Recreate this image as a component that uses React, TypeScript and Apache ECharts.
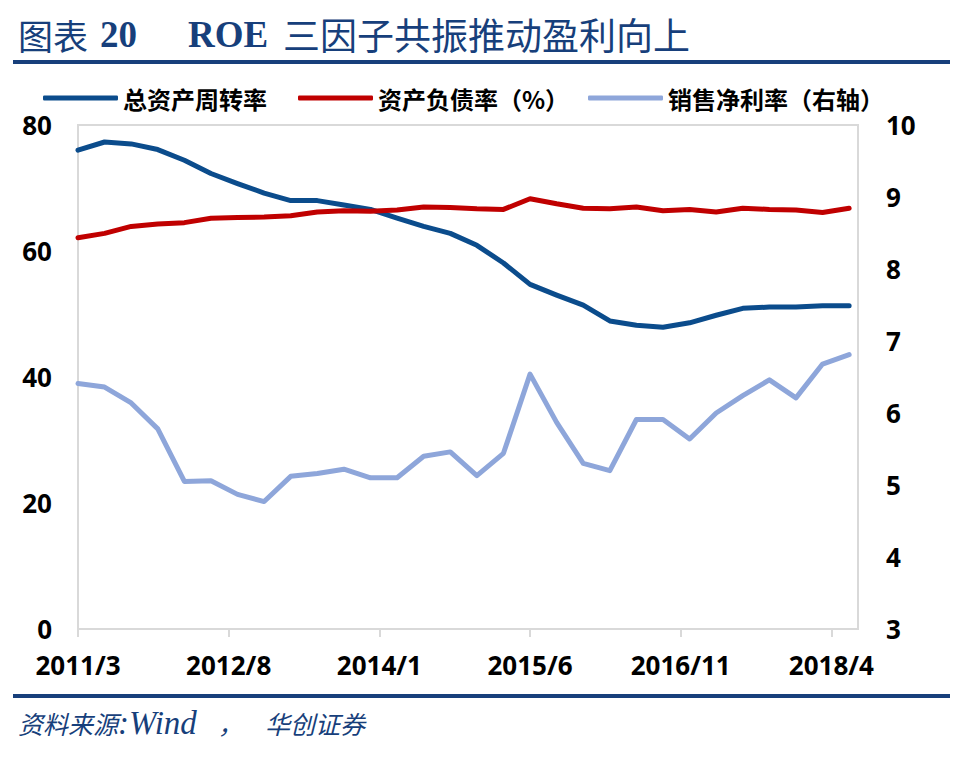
// ROE 三因子：总资产周转率、资产负债率（左轴）与销售净利率（右轴），季度数据，月度日期轴
import { useEffect, useRef } from 'react'
import * as echarts from 'echarts'

// 季度数据点（2011/3 – 2018/6）
const QUARTERS = [
  '2011/3', '2011/6', '2011/9', '2011/12',
  '2012/3', '2012/6', '2012/9', '2012/12',
  '2013/3', '2013/6', '2013/9', '2013/12',
  '2014/3', '2014/6', '2014/9', '2014/12',
  '2015/3', '2015/6', '2015/9', '2015/12',
  '2016/3', '2016/6', '2016/9', '2016/12',
  '2017/3', '2017/6', '2017/9', '2017/12',
  '2018/3', '2018/6',
]

const TURNOVER = [
  76.0, 77.3, 77.0, 76.1, 74.4, 72.3, 70.7, 69.2, 68.0, 68.0,
  67.3, 66.6, 65.2, 63.9, 62.8, 60.9, 58.1, 54.7, 53.0, 51.4,
  48.9, 48.2, 47.9, 48.6, 49.8, 50.9, 51.1, 51.1, 51.3, 51.3,
]

const LEVERAGE = [
  62.1, 62.8, 63.9, 64.3, 64.5, 65.2, 65.3, 65.4, 65.6, 66.2,
  66.4, 66.3, 66.5, 67.0, 66.9, 66.7, 66.6, 68.3, 67.5, 66.8,
  66.7, 67.0, 66.4, 66.6, 66.2, 66.8, 66.6, 66.5, 66.1, 66.8,
]

const NET_MARGIN = [
  6.41, 6.36, 6.14, 5.78, 5.05, 5.06, 4.87, 4.77, 5.12, 5.16,
  5.22, 5.10, 5.10, 5.40, 5.46, 5.13, 5.44, 6.54, 5.87, 5.30,
  5.20, 5.91, 5.91, 5.64, 6.00, 6.24, 6.46, 6.21, 6.68, 6.81,
]

const SERIES_NAMES = ['总资产周转率', '资产负债率（%）', '销售净利率（右轴）']

// 月度日期轴：2011/3 到 2018/7，每 17 个月一个刻度标签
const AXIS_START = { year: 2011, month: 3 }
const AXIS_MONTHS = 89
const MONTHS: string[] = []
for (let i = 0; i < AXIS_MONTHS; i++) {
  const m = AXIS_START.month - 1 + i
  MONTHS.push(`${AXIS_START.year + Math.floor(m / 12)}/${(m % 12) + 1}`)
}

const TITLE = '图表 20 ROE 三因子共振推动盈利向上'
const SOURCE = '资料来源:Wind，华创证券'

const NAVY = '#173F7B'
const COLORS = ['#0B4C8C', '#C00000', '#8EA6DA']
const GRID_GRAY = '#D9D9D9'

export default function App() {
  const ref = useRef<HTMLDivElement>(null)

  useEffect(() => {
    document.body.style.margin = '0'
    if (!ref.current) return
    const chart = echarts.init(ref.current, undefined, { renderer: 'svg' })

    const pairs = (vals: number[]) => QUARTERS.map((q, i) => [q, vals[i]])
    const axisFont = { fontFamily: 'Noto Sans', fontWeight: 'bold' as const, fontSize: 26, lineHeight: 20, color: '#000' }
    const legendCommon = {
      top: 86,
      padding: 0,
      icon: 'roundRect',
      itemWidth: 75,
      itemHeight: 5,
      textStyle: { fontFamily: 'Noto Sans CJK SC', fontWeight: 'bold' as const, fontSize: 24, lineHeight: 22, color: '#000' },
    }

    chart.setOption({
      animation: false,
      backgroundColor: '#fff',
      grid: {
        left: 78, right: 104, top: 125, bottom: 130,
        show: true, borderColor: GRID_GRAY, borderWidth: 2, backgroundColor: 'transparent',
      },
      legend: [
        { ...legendCommon, left: 43, data: [SERIES_NAMES[0]] },
        { ...legendCommon, left: 298, data: [SERIES_NAMES[1]] },
        { ...legendCommon, left: 588, data: [SERIES_NAMES[2]] },
      ],
      xAxis: {
        type: 'category',
        data: MONTHS,
        boundaryGap: false,
        axisLine: { lineStyle: { color: GRID_GRAY, width: 2 } },
        axisTick: { show: true, interval: 16, length: 8, lineStyle: { color: GRID_GRAY, width: 2 } },
        axisLabel: { ...axisFont, interval: 16, margin: 26 },
        splitLine: { show: false },
      },
      yAxis: [
        {
          type: 'value', min: 0, max: 80, interval: 20,
          axisLine: { show: false }, axisTick: { show: false }, splitLine: { show: false },
          axisLabel: { ...axisFont, margin: 26 },
        },
        {
          type: 'value', min: 3, max: 10, interval: 1, position: 'right',
          axisLine: { show: false }, axisTick: { show: false }, splitLine: { show: false },
          axisLabel: { ...axisFont, margin: 28 },
        },
      ],
      series: [TURNOVER, LEVERAGE, NET_MARGIN].map((vals, i) => ({
        name: SERIES_NAMES[i],
        type: 'line',
        yAxisIndex: i === 2 ? 1 : 0,
        data: pairs(vals),
        symbol: 'none',
        connectNulls: true,
        itemStyle: { color: COLORS[i] },
        lineStyle: { color: COLORS[i], width: 5, cap: 'round', join: 'round' },
      })),
      graphic: [
        {
          type: 'text', x: 18, y: 34,
          style: {
            text: '{c1|图表}{n1|20}{n2|ROE}{c2|三因子共振推动盈利向上}',
            verticalAlign: 'middle',
            fill: NAVY,
            rich: {
              c1: { fontFamily: 'Noto Sans CJK SC', fontSize: 35, width: 82, fill: NAVY },
              n1: { fontFamily: 'Liberation Serif', fontWeight: 'bold', fontSize: 37, width: 88, fill: NAVY },
              n2: { fontFamily: 'Liberation Serif', fontWeight: 'bold', fontSize: 37, width: 95, fill: NAVY },
              c2: { fontFamily: 'Noto Sans CJK SC', fontSize: 37, fill: NAVY },
            },
          },
          info: TITLE,
        },
        { type: 'rect', shape: { x: 13, y: 60, width: 937, height: 4 }, style: { fill: NAVY } },
        { type: 'rect', shape: { x: 13, y: 694, width: 937, height: 4 }, style: { fill: NAVY } },
        {
          type: 'text', x: 18, y: 723,
          style: {
            text: '{c|资料来源}{w|:Wind}{p|，}{c|华创证券}',
            verticalAlign: 'middle',
            fill: NAVY,
            rich: {
              c: { fontFamily: 'Noto Sans CJK SC', fontStyle: 'italic', fontSize: 25, fill: NAVY },
              w: { fontFamily: 'Liberation Serif', fontStyle: 'italic', fontSize: 33, width: 100, fill: NAVY },
              p: { fontFamily: 'Noto Sans CJK SC', fontStyle: 'italic', fontSize: 25, width: 47, fill: NAVY },
            },
          },
          info: SOURCE,
        },
      ],
    })

    return () => chart.dispose()
  }, [])

  return <div ref={ref} style={{ width: 962, height: 759 }} />
}
